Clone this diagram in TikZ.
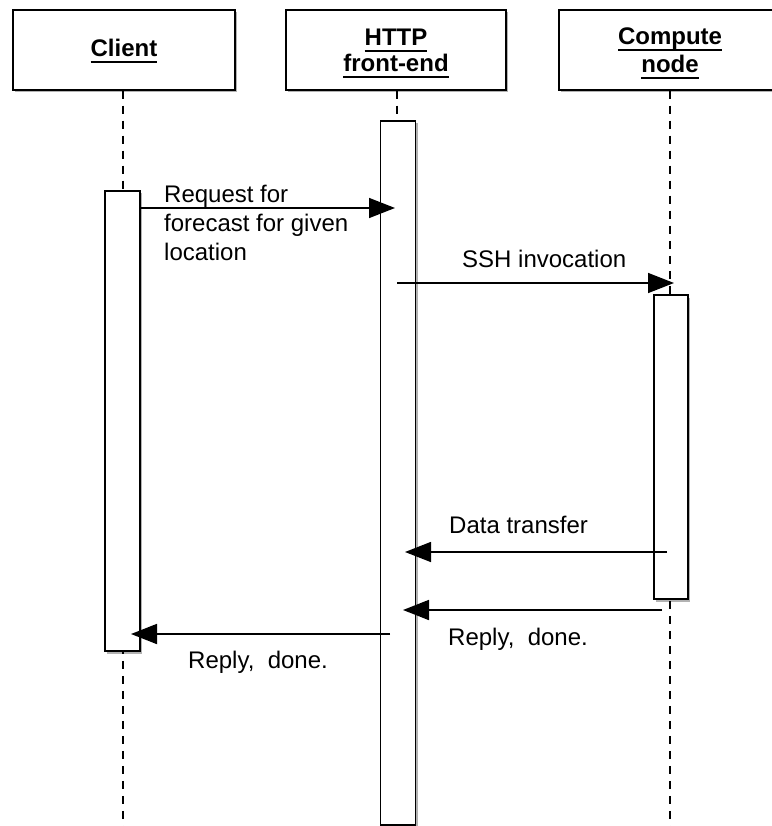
\documentclass[tikz,border=0pt]{standalone}
\usepackage{fontspec}
\setmainfont{Liberation Sans}
\usetikzlibrary{arrows.meta,shadows}

% underlined header word with a fixed-depth rule
\newcommand\hdrul[1]{\setbox0\hbox{#1}\rlap{\rule[-5.6pt]{\wd0}{1.8pt}}\box0}

\tikzset{
  softshadow/.style={drop shadow={shadow xshift=2pt, shadow yshift=-2.5pt, opacity=0.3, fill=black}},
  hdrbox/.style={draw=black, line width=1.5pt, fill=white, minimum height=80pt,
                 inner sep=0pt, softshadow},
  actbox/.style={draw=black, line width=1.5pt, fill=white, minimum width=35pt,
                 inner sep=0pt, softshadow},
  lifeline/.style={line width=1.5pt, dash pattern=on 8pt off 7pt},
  msg/.style={line width=1.5pt, -{Triangle[length=26pt,width=20pt]}},
  hdrtext/.style={font=\fontsize{24}{27}\selectfont\bfseries, inner sep=0pt, anchor=base},
  lbl/.style={font=\fontsize{24}{29}\selectfont, inner sep=0pt, anchor=base west},
}

\begin{document}
\begin{tikzpicture}[x=1pt,y=-1pt]
\useasboundingbox (0,0) rectangle (771,826);

% participants
\node[hdrbox, minimum width=222pt] (client)  at (124,50) {};
\node[hdrbox, minimum width=220pt] (http)    at (396,50) {};
\node[hdrbox, minimum width=228pt] (compute) at (673,50) {};

\node[hdrtext] (client-t)  at (124,57) {\hdrul{Client}};
\node[hdrtext] (http-t1)   at (396,46) {\hdrul{HTTP}};
\node[hdrtext] (http-t2)   at (396,72) {\hdrul{front-end}};
\node[hdrtext] (compute-t1) at (670,45) {\hdrul{Compute}};
\node[hdrtext] (compute-t2) at (670,73) {\hdrul{node}};

% lifelines
\coordinate (client-end)  at (123,826);
\coordinate (http-end)    at (397,826);
\coordinate (compute-end) at (670,826);
\draw[lifeline] (client.south -| client-end) -- (client-end);
\draw[lifeline] (http.south -| http-end) -- (http-end);
\draw[lifeline] (compute.south -| compute-end) -- (compute-end);

% activation bars
\node[actbox, minimum height=460pt] (clientact)  at (122.5,421) {};
\node[actbox, minimum height=704pt] (httpact)    at (398,473) {};
\node[actbox, minimum height=304pt, minimum width=34pt] (computeact) at (671,447) {};

% message end points
\coordinate (req-s)   at (clientact.east |- 0,208);
\coordinate (req-e)   at (395,208);
\coordinate (ssh-s)   at (397,283);
\coordinate (ssh-e)   at (674,283);
\coordinate (data-s)  at (667,552);
\coordinate (data-e)  at (405,552);
\coordinate (rep1-s)  at (662,610);
\coordinate (rep1-e)  at (403,610);
\coordinate (rep2-s)  at (390,634);
\coordinate (rep2-e)  at (131,634);

% messages
\draw[msg] (req-s) -- (req-e);
\draw[msg] (ssh-s) -- (ssh-e);
\draw[msg] (data-s) -- (data-e);
\draw[msg, line width=1.8pt] (rep1-s) -- (rep1-e);
\draw[msg, line width=1.8pt] (rep2-s) -- (rep2-e);

% message labels
\node[lbl, anchor=west, align=left] (req-l) at (164,223)
  {Request for\\forecast for given\\location};
\node[lbl] (ssh-l)  at (462,267) {SSH invocation};
\node[lbl] (data-l) at (449,533) {Data transfer};
\node[lbl] (rep1-l) at (448,645) {Reply,\ \ done.};
\node[lbl] (rep2-l) at (188,668) {Reply,\ \ done.};
\end{tikzpicture}
\end{document}
